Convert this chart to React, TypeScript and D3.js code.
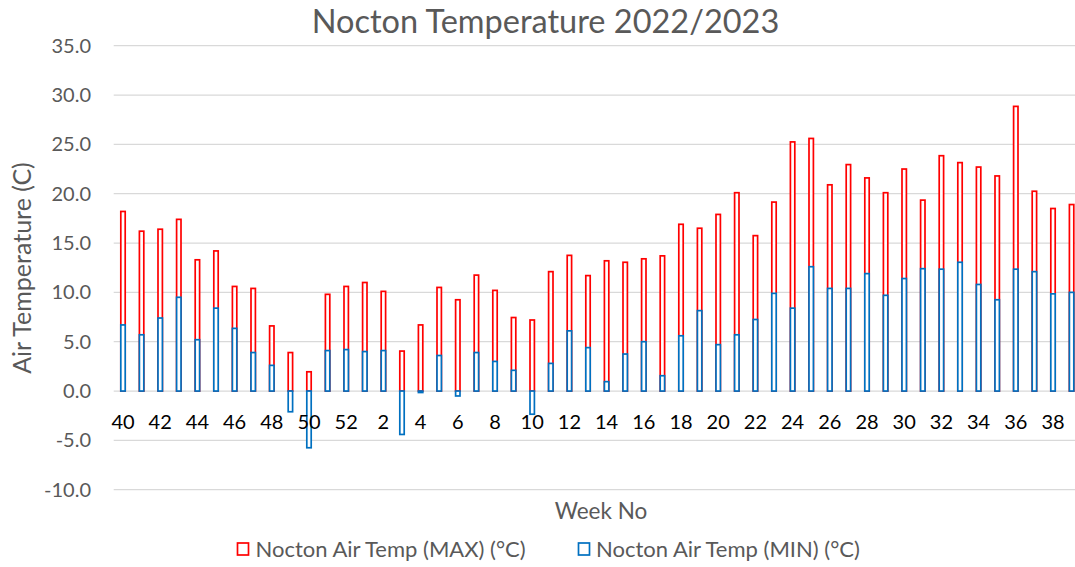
import React from "react";
import * as d3 from "d3";

const weeks: string[] = [
  "40","41","42","43","44","45","46","47","48","49","50","51","52",
  "1","2","3","4","5","6","7","8","9","10","11","12","13","14","15","16","17","18","19","20",
  "21","22","23","24","25","26","27","28","29","30","31","32","33","34","35","36","37","38","39",
];

const maxTemp: number[] = [
  18.2, 16.2, 16.4, 17.4, 13.3, 14.2, 10.6, 10.4, 6.6, 3.9, 1.95, 9.8, 10.6,
  11.0, 10.1, 4.05, 6.7, 10.5, 9.25, 11.75, 10.2, 7.45, 7.2, 12.1, 13.75, 11.7, 13.2, 13.05, 13.4, 13.7,
  16.9, 16.5, 17.9, 20.1, 15.75, 19.15, 25.25, 25.6, 20.9, 22.95, 21.6, 20.1, 22.5, 19.35, 23.85, 23.15,
  22.7, 21.8, 28.85, 20.25, 18.5, 18.9,
];

const minTemp: number[] = [
  6.7, 5.7, 7.4, 9.5, 5.2, 8.4, 6.35, 3.9, 2.6, -2.1, -5.75, 4.1, 4.2,
  4.0, 4.1, -4.4, -0.15, 3.6, -0.5, 3.9, 3.0, 2.1, -2.35, 2.8, 6.1, 4.4, 0.95, 3.75, 5.0, 1.55,
  5.6, 8.15, 4.7, 5.7, 7.25, 9.9, 8.4, 12.6, 10.4, 10.4, 11.9, 9.7, 11.4, 12.4, 12.35, 13.05,
  10.8, 9.25, 12.35, 12.1, 9.85, 10.0,
];

const yTicks: number[] = [-10, -5, 0, 5, 10, 15, 20, 25, 30, 35];

const title = "Nocton Temperature 2022/2023";
const yTitle = "Air Temperature (C)";
const xTitle = "Week No";
const seriesNames = ["Nocton Air Temp (MAX) (°C)", "Nocton Air Temp (MIN) (°C)"];

const W = 1075;
const H = 567;
const FONT = "Lato, 'Open Sans', sans-serif";
const GRAY = "#595959";
const RED = "#FF0000";
const BLUE = "#0070C0";

export default function App() {
  const left = 113.7;
  const step = 18.6;
  const x = d3
    .scaleBand<string>()
    .domain(weeks)
    .range([left, left + step * weeks.length])
    .paddingInner(0)
    .paddingOuter(0);
  const y = d3.scaleLinear().domain([-10, 35]).range([489.7, 45.7]);
  const bw = 4.4;
  const sw = 1.7;
  const y0 = y(0);

  return (
    <svg
      width={W}
      height={H}
      style={{ position: "absolute", left: 0, top: 0, background: "#fff" }}
      fontFamily={FONT}
    >
      <rect x={0} y={0} width={W} height={H} fill="#fff" />
      <text x={545.5} y={32.5} textAnchor="middle" fontSize={32.5} fill={GRAY}>
        {title}
      </text>
      {yTicks.map((t) => (
        <g key={t}>
          <line x1={left} x2={W} y1={y(t)} y2={y(t)} stroke="#D9D9D9" strokeWidth={1.3} />
          <text x={91} y={y(t)} dy="0.35em" textAnchor="end" fontSize={20} fill={GRAY}>
            {t.toFixed(1)}
          </text>
        </g>
      ))}
      {weeks.map((w, i) => {
        const cx = (x(w) as number) + x.bandwidth() / 2;
        const mx = maxTemp[i];
        const mn = minTemp[i];
        return (
          <g key={w}>
            <rect
              x={cx - bw / 2}
              y={Math.min(y(mx), y0)}
              width={bw}
              height={Math.abs(y(mx) - y0)}
              fill="#fff"
              stroke={RED}
              strokeWidth={sw}
            />
            <rect
              x={cx - bw / 2}
              y={Math.min(y(mn), y0)}
              width={bw}
              height={Math.abs(y(mn) - y0)}
              fill="#fff"
              stroke={BLUE}
              strokeWidth={sw}
            />
          </g>
        );
      })}
      {weeks.map((w, i) =>
        i % 2 === 0 ? (
          <text
            key={"l" + w}
            x={(x(w) as number) + x.bandwidth() / 2}
            y={429}
            textAnchor="middle"
            fontSize={20}
            fill="#000"
          >
            {w}
          </text>
        ) : null
      )}
      <text
        transform={`translate(31,268) rotate(-90)`}
        textAnchor="middle"
        fontSize={25}
        fill={GRAY}
      >
        {yTitle}
      </text>
      <text x={601} y={519} textAnchor="middle" fontSize={22.5} fill={GRAY}>
        {xTitle}
      </text>
      <rect x={237.5} y={543} width={11} height={12} fill="#fff" stroke={RED} strokeWidth={1.7} />
      <text x={255.5} y={557} fontSize={22} fill={GRAY}>
        {seriesNames[0]}
      </text>
      <rect x={578.5} y={543} width={11} height={12} fill="#fff" stroke={BLUE} strokeWidth={1.7} />
      <text x={596} y={557} fontSize={22} fill={GRAY}>
        {seriesNames[1]}
      </text>
    </svg>
  );
}
